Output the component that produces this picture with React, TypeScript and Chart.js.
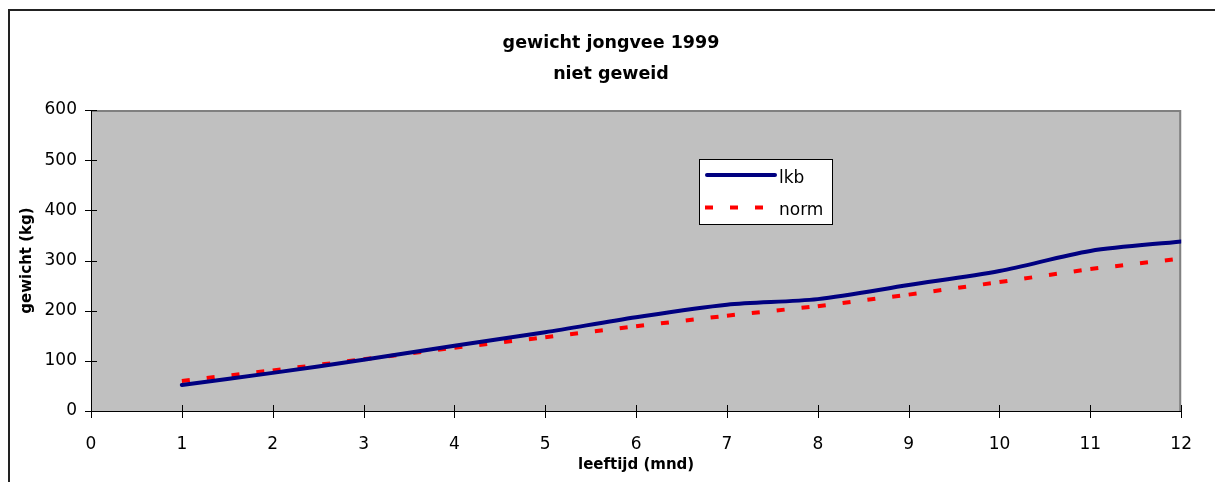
import React, { useEffect, useRef } from "react";
import { Chart, registerables } from "chart.js";

Chart.register(...registerables);

// ---- data ----
const months = [1, 2, 3, 4, 5, 6, 7, 8, 9, 10, 11, 12];
const lkbValues = [52, 76, 102, 130, 157, 187, 212, 223, 251, 279, 319, 338];
const normValues = [60, 81, 103, 126, 147, 169, 190, 209, 232, 257, 283, 304];
const seriesNames = ["lkb", "norm"];
const titleLines = ["gewicht jongvee 1999", "niet geweid"];
const xAxisTitle = "leeftijd (mnd)";
const yAxisTitle = "gewicht (kg)";

const FONT = '"DejaVu Sans", "Verdana", sans-serif';
const LKB_COLOR = "#000080";
const NORM_COLOR = "#FF0000";
const NORM_DASH = [8, 17];

export default function App() {
  const ref = useRef<HTMLCanvasElement>(null);

  useEffect(() => {
    const canvas = ref.current;
    if (!canvas) return;

    const framePlugin = {
      id: "frame",
      beforeDraw(chart: any) {
        const ctx = chart.ctx;
        const { left, top, right, bottom } = chart.chartArea;
        ctx.save();
        ctx.fillStyle = "#ffffff";
        ctx.fillRect(0, 0, chart.width, chart.height);
        // outer border
        ctx.strokeStyle = "#222222";
        ctx.lineWidth = 2;
        ctx.beginPath();
        ctx.moveTo(9, chart.height);
        ctx.lineTo(9, 10);
        ctx.lineTo(chart.width, 10);
        ctx.stroke();
        // plot area
        ctx.fillStyle = "#C0C0C0";
        ctx.fillRect(left, top, right - left, bottom - top);
        ctx.strokeStyle = "#808080";
        ctx.lineWidth = 2;
        ctx.beginPath();
        ctx.moveTo(left, top + 1);
        ctx.lineTo(right - 1, top + 1);
        ctx.lineTo(right - 1, bottom);
        ctx.stroke();
        // titles
        ctx.fillStyle = "#000";
        ctx.font = `bold 17.5px ${FONT}`;
        ctx.textAlign = "center";
        ctx.textBaseline = "middle";
        ctx.fillText(titleLines[0], 611, 43);
        ctx.fillText(titleLines[1], 611, 74);
        ctx.restore();
      },
      afterDraw(chart: any) {
        const ctx = chart.ctx;
        const xs = chart.scales.x;
        const ys = chart.scales.y;
        const { left, bottom } = chart.chartArea;
        ctx.save();
        ctx.strokeStyle = "#000";
        ctx.lineWidth = 1;
        ctx.beginPath();
        xs.ticks.forEach((t: any) => {
          const px = Math.round(xs.getPixelForValue(t.value)) + 0.5;
          ctx.moveTo(px, bottom - 6);
          ctx.lineTo(px, bottom + 7);
        });
        ys.ticks.forEach((t: any) => {
          const py = Math.round(ys.getPixelForValue(t.value)) + 0.5;
          ctx.moveTo(left - 6, py);
          ctx.lineTo(left + 6, py);
        });
        ctx.stroke();

        // legend
        const bx = 699.5, by = 159.5, bw = 133, bh = 65;
        ctx.fillStyle = "#fff";
        ctx.fillRect(bx, by, bw, bh);
        ctx.strokeStyle = "#000";
        ctx.lineWidth = 1;
        ctx.strokeRect(bx, by, bw, bh);
        ctx.strokeStyle = LKB_COLOR;
        ctx.lineWidth = 4;
        ctx.lineCap = "round";
        ctx.beginPath();
        ctx.moveTo(707, 175);
        ctx.lineTo(775, 175);
        ctx.stroke();
        ctx.strokeStyle = NORM_COLOR;
        ctx.lineCap = "butt";
        ctx.setLineDash(NORM_DASH);
        ctx.beginPath();
        ctx.moveTo(705, 207.5);
        ctx.lineTo(776, 207.5);
        ctx.stroke();
        ctx.setLineDash([]);
        ctx.fillStyle = "#000";
        ctx.font = `17px ${FONT}`;
        ctx.textAlign = "left";
        ctx.textBaseline = "alphabetic";
        ctx.fillText(seriesNames[0], 779, 183);
        ctx.fillText(seriesNames[1], 779, 215);
        ctx.restore();
      },
    };

    const chart = new Chart(canvas, {
      type: "line",
      data: {
        datasets: [
          {
            label: seriesNames[0],
            data: months.map((m, i) => ({ x: m, y: lkbValues[i] })),
            borderColor: LKB_COLOR,
            borderWidth: 4,
            pointRadius: 0,
            tension: 0.3,
            borderCapStyle: "round",
            borderJoinStyle: "round",
            fill: false,
            order: 1,
          },
          {
            label: seriesNames[1],
            data: months.map((m, i) => ({ x: m, y: normValues[i] })),
            borderColor: NORM_COLOR,
            borderWidth: 4,
            borderDash: NORM_DASH,
            pointRadius: 0,
            tension: 0,
            fill: false,
            order: 2,
            segment: {
              borderDashOffset: (c: any) => (c.p0DataIndex % 2) * 0.001,
            },
          } as any,
        ],
      },
      options: {
        animation: false,
        responsive: false,
        maintainAspectRatio: false,
        devicePixelRatio: 1,
        layout: { padding: { left: 0, top: 110, right: 32, bottom: 0 } },
        plugins: {
          legend: { display: false },
          tooltip: { enabled: false },
          title: { display: false },
        },
        scales: {
          x: {
            type: "linear",
            min: 0,
            max: 12,
            grid: { display: false, drawTicks: false },
            border: { display: true, color: "#000", width: 1 },
            ticks: {
              stepSize: 1,
              padding: 23,
              color: "#000",
              font: { family: FONT, size: 17 },
              autoSkip: false,
              maxRotation: 0,
            },
            title: {
              display: true,
              text: xAxisTitle,
              color: "#000",
              font: { family: FONT, size: 15, weight: "bold" },
              padding: 8,
            },
            afterFit: (s: any) => {
              s.height = 71;
            },
          },
          y: {
            type: "linear",
            min: 0,
            max: 600,
            grid: { display: false, drawTicks: false },
            border: { display: true, color: "#000", width: 1 },
            ticks: {
              stepSize: 100,
              padding: 14,
              color: "#000",
              font: { family: FONT, size: 17 },
            },
            title: {
              display: true,
              text: yAxisTitle,
              color: "#000",
              font: { family: FONT, size: 15, weight: "bold" },
              padding: 18,
            },
            afterFit: (s: any) => {
              s.width = 91;
            },
          },
        },
      },
      plugins: [framePlugin],
    } as any);

    return () => chart.destroy();
  }, []);

  return (
    <div style={{ position: "fixed", left: 0, top: 0, width: 1215, height: 482, background: "#fff" }}>
      <canvas ref={ref} width={1215} height={482} style={{ display: "block", width: 1215, height: 482 }} />
    </div>
  );
}
